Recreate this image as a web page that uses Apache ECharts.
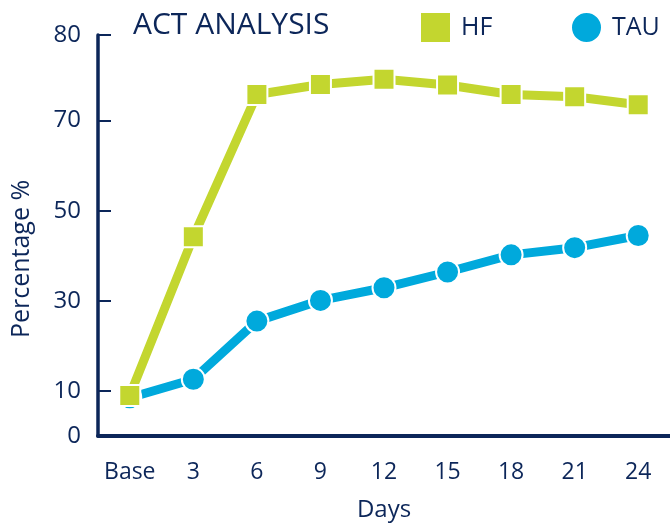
<!DOCTYPE html>
<html>
<head>
<meta charset="utf-8">
<script src="https://cdn.jsdelivr.net/npm/echarts@6/dist/echarts.min.js"></script>
<style>
  html, body { margin: 0; padding: 0; background: #ffffff; }
  #chart { width: 670px; height: 525px; }
</style>
</head>
<body>
<div id="chart"></div>
<script>
// Days since baseline
const days = ['Base', '3', '6', '9', '12', '15', '18', '21', '24'];
// Percentage values per series
const hfValues = [9, 44.2, 75.8, 78, 79.2, 77.9, 75.8, 75.3, 73.5];
const tauValues = [8.5, 12.6, 25.5, 30.1, 32.9, 36.4, 40.2, 41.8, 44.5];
// Y-axis tick positions and the labels shown at them
const yTickValues = [0, 10, 30, 50, 70, 89];
const yTickLabels = ['0', '10', '30', '50', '70', '80'];

const NAVY = '#0c2659';
const GREEN = '#c3d62f';
const BLUE = '#00a9dc';
const FONT = '"Open Sans", "Noto Sans", sans-serif';

const legendText = { color: NAVY, fontSize: 25, fontWeight: 500, fontFamily: FONT, padding: [0, 0, 0, 5] };

const chart = echarts.init(document.getElementById('chart'));
chart.setOption({
  animation: false,
  textStyle: { fontFamily: FONT },
  title: {
    text: 'ACT ANALYSIS',
    left: 128,
    top: 5,
    textStyle: { color: NAVY, fontSize: 30, fontWeight: 500, fontFamily: FONT }
  },
  legend: [
    {
      orient: 'horizontal',
      left: 419,
      top: 11,
      padding: 0,
      itemWidth: 31,
      itemHeight: 31,
      textStyle: legendText,
      data: [{ name: 'HF', icon: 'rect' }]
    },
    {
      orient: 'horizontal',
      left: 570,
      top: 11,
      padding: 0,
      itemWidth: 31,
      itemHeight: 31,
      textStyle: legendText,
      data: [{ name: 'TAU', icon: 'circle' }]
    }
  ],
  grid: { left: 98, right: 0, top: 35, bottom: 89, containLabel: false, outerBoundsMode: 'none' },
  xAxis: {
    type: 'category',
    data: days,
    boundaryGap: true,
    name: 'Days',
    nameLocation: 'middle',
    nameGap: 62,
    nameTextStyle: { color: NAVY, fontSize: 24, fontWeight: 500, fontFamily: FONT },
    axisLine: { lineStyle: { color: NAVY, width: 4 } },
    axisTick: {
      alignWithLabel: true,
      inside: true,
      length: 9,
      interval: (i) => i !== 0,
      lineStyle: { color: NAVY, width: 2 }
    },
    axisLabel: { color: NAVY, fontSize: 23, fontWeight: 500, margin: 25, interval: 0, fontFamily: FONT },
    splitLine: { show: false }
  },
  yAxis: {
    type: 'value',
    min: 0,
    max: 89,
    axisLine: { show: true, lineStyle: { color: NAVY, width: 3.5 } },
    axisTick: {
      show: true,
      inside: true,
      length: 13,
      customValues: yTickValues,
      lineStyle: { color: NAVY, width: 2 }
    },
    axisLabel: {
      color: NAVY,
      fontSize: 24,
      fontWeight: 500,
      margin: 17,
      fontFamily: FONT,
      customValues: yTickValues,
      formatter: (v) => yTickLabels[yTickValues.indexOf(v)]
    },
    splitLine: { show: false }
  },
  graphic: [{
    type: 'text',
    x: 22,
    y: 259,
    rotation: Math.PI / 2,
    style: {
      text: 'Percentage %',
      fill: NAVY,
      font: '500 25px ' + FONT,
      align: 'center',
      verticalAlign: 'middle'
    }
  }],
  series: [
    {
      name: 'TAU',
      type: 'line',
      data: tauValues,
      z: 2,
      symbol: 'circle',
      symbolSize: 23,
      lineStyle: { color: BLUE, width: 9 },
      itemStyle: { color: BLUE, borderColor: '#ffffff', borderWidth: 2 }
    },
    {
      name: 'HF',
      type: 'line',
      data: hfValues,
      z: 3,
      symbol: 'rect',
      symbolSize: 21,
      lineStyle: { color: GREEN, width: 9 },
      itemStyle: { color: GREEN, borderColor: '#ffffff', borderWidth: 2 }
    }
  ]
});
</script>
</body>
</html>
